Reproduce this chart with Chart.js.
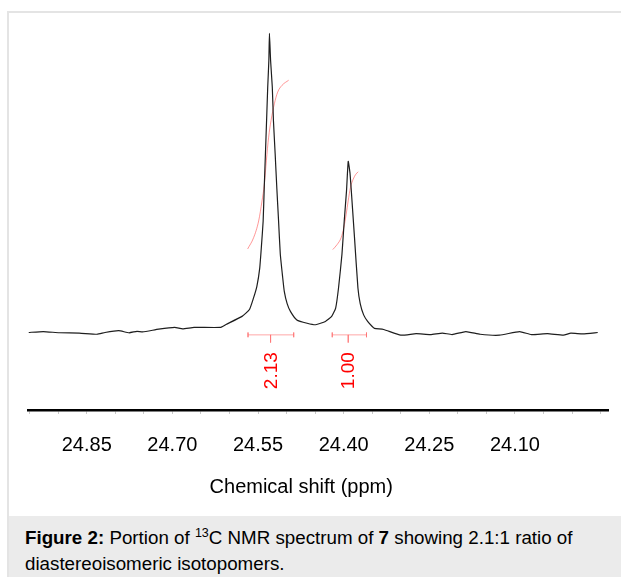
<!DOCTYPE html>
<html>
<head>
<meta charset="utf-8">
<script src="https://cdn.jsdelivr.net/npm/chart.js@4.4.1/dist/chart.umd.min.js"></script>
<style>
    html, body { margin: 0; padding: 0; background: #fff; }
    body { width: 621px; height: 577px; position: relative; overflow: hidden; font-family: "Liberation Sans", Arial, sans-serif; }
    #frame { position: absolute; left: 7px; top: 11px; width: 700px; height: 700px; border-left: 2px solid #e4e4e4; border-top: 2px solid #e4e4e4; }
    #wrap { position: absolute; left: 0; top: 0; width: 621px; height: 515px; }
    #caption { position: absolute; left: 9px; top: 516px; width: 612px; height: 61px; background: #ebebeb; box-sizing: border-box; padding: 9px 0 0 16px; font-size: 18.75px; line-height: 26px; color: #000; white-space: nowrap; }
    #caption sup { font-size: 12.5px; line-height: 0; vertical-align: 7px; }
</style>
</head>
<body>
<div id="frame"></div>
<div id="wrap"><canvas id="nmr-canvas" width="621" height="515"></canvas></div>
<div id="caption"><b>Figure 2:</b> Portion of <sup>13</sup>C NMR spectrum of <b>7</b> showing 2.1:1 ratio of<br>diastereoisomeric isotopomers.</div>
<script>
// spectrum (ppm / relative intensity, tallest peak = 100)
const spectrumPpm = [
    24.952, 24.926, 24.898, 24.863, 24.832, 24.818, 24.794, 24.776, 24.762, 24.752,
    24.724, 24.696, 24.682, 24.662, 24.616, 24.606, 24.578, 24.565, 24.558, 24.552,
    24.547, 24.544, 24.541, 24.539, 24.537, 24.535, 24.533, 24.531, 24.530, 24.528,
    24.525, 24.523, 24.520, 24.517, 24.514, 24.511, 24.507, 24.504, 24.499, 24.493,
    24.482, 24.464, 24.449, 24.432, 24.421, 24.414, 24.409, 24.403, 24.399, 24.395,
    24.392, 24.389, 24.387, 24.381, 24.375, 24.371, 24.365, 24.358, 24.350, 24.346,
    24.330, 24.300, 24.273, 24.248, 24.227, 24.210, 24.186, 24.161, 24.127, 24.092,
    24.071, 24.043, 24.015, 24.002, 23.981, 23.955
];
const spectrumIntensity = [
    -0.3, 0.0, -0.4, -0.5, -0.9, -0.3, 0.3, -0.4, 0.1, -0.1,
    0.8, 1.4, 0.9, 1.4, 1.4, 2.4, 5.1, 7.4, 11.2, 15.2,
    21.3, 28.7, 37.1, 48.9, 59.7, 70.8, 82.0, 91.0, 100, 91.0,
    82.0, 70.8, 59.7, 47.9, 37.1, 26.0, 18.5, 13.5, 9.4, 6.7,
    3.9, 2.8, 2.3, 3.4, 5.1, 7.9, 14.6, 25.9, 37.1, 47.2,
    57.1, 53.3, 48.3, 31.5, 14.6, 9.4, 5.6, 3.4, 1.7, 1.1,
    0.7, -1.2, -0.7, -1.0, -0.5, -1.0, 0.0, -0.9, -1.2, 0.0,
    -1.0, -0.7, -1.2, -0.5, -0.8, -0.3
];

// integral curves
const integral1Ppm = [24.5682, 24.5577, 24.5489, 24.5430, 24.5389, 24.5354, 24.5314, 24.5272, 24.5214, 24.5156, 24.5079, 24.4963];
const integral1Value = [27.7, 31.5, 37.1, 43.8, 49.4, 57.3, 65.2, 70.8, 76.4, 80.3, 82.6, 84.3];
const integral2Ppm = [24.4191, 24.4114, 24.4044, 24.3998, 24.3956, 24.3921, 24.3881, 24.3833, 24.3793, 24.3746];
const integral2Value = [27.5, 29.2, 31.5, 34.8, 39.3, 43.8, 48.3, 51.1, 52.6, 53.6];

// integration ranges: from, to, centre, value
const integralFrom = [24.5675, 24.420];
const integralTo = [24.4875, 24.360];
const integralCentre = [24.528, 24.392];
const integralLabels = ['2.13', '1.00'];

const tickLabels = ['24.85', '24.70', '24.55', '24.40', '24.25', '24.10'];
const axisTitle = 'Chemical shift (ppm)';

const FONT = '"Liberation Sans", Arial, sans-serif';
const barLevel = -1.1;
const labelLevel = -13.1;

function toPoints(xs, ys) {
    return xs.map((x, i) => ({ x: x, y: ys[i] }));
}

// integration bars with end caps and a centre tick, gaps split the pieces
let barPoints = [];
integralFrom.forEach((a, i) => {
    let b = integralTo[i];
    let c = integralCentre[i];
    barPoints.push(
        { x: a, y: barLevel + 0.8 }, { x: a, y: barLevel - 0.8 }, { x: a, y: null },
        { x: a, y: barLevel }, { x: b, y: barLevel }, { x: b, y: null },
        { x: b, y: barLevel + 0.8 }, { x: b, y: barLevel - 0.8 }, { x: b, y: null },
        { x: c, y: barLevel }, { x: c, y: barLevel - 2.6 }, { x: c, y: null }
    );
});

const integralText = {
    id: 'integralText',
    afterDatasetsDraw(chart) {
        const c = chart.ctx;
        const sx = chart.scales.x;
        const sy = chart.scales.y;
        c.save();
        c.fillStyle = '#ff0000';
        c.font = '19px ' + FONT;
        c.textAlign = 'center';
        c.textBaseline = 'middle';
        integralLabels.forEach((t, i) => {
            c.save();
            c.translate(sx.getPixelForValue(integralCentre[i]), sy.getPixelForValue(labelLevel));
            c.rotate(-Math.PI / 2);
            c.fillText(t, 0, 1);
            c.restore();
        });
        // axis title sits a bit left of the axis centre in the original
        const area = chart.chartArea;
        c.fillStyle = '#000';
        c.font = '20px ' + FONT;
        c.fillText(axisTitle, (area.left + area.right) / 2 - 17, area.bottom + 77);
        c.restore();
    }
};

const ctx = document.getElementById('nmr-canvas').getContext('2d');
const nmrChart = new Chart(ctx, {
    type: 'line',
    data: {
        datasets: [
            {
                label: 'spectrum',
                data: toPoints(spectrumPpm, spectrumIntensity),
                borderColor: '#1e1e1e',
                borderWidth: 1.2,
                pointRadius: 0,
                tension: 0.15
            },
            {
                label: 'integral 1',
                data: toPoints(integral1Ppm, integral1Value),
                borderColor: 'rgba(255, 80, 80, 0.75)',
                borderWidth: 0.8,
                pointRadius: 0,
                cubicInterpolationMode: 'monotone'
            },
            {
                label: 'integral 2',
                data: toPoints(integral2Ppm, integral2Value),
                borderColor: 'rgba(255, 80, 80, 0.75)',
                borderWidth: 0.8,
                pointRadius: 0,
                cubicInterpolationMode: 'monotone'
            },
            {
                label: 'integration bars',
                data: barPoints,
                borderColor: 'rgba(255, 110, 110, 0.6)',
                borderWidth: 1,
                pointRadius: 0,
                spanGaps: false
            }
        ]
    },
    options: {
        responsive: false,
        animation: false,
        events: [],
        layout: {
            padding: { left: 28.5, right: 13, top: 20, bottom: 39 }
        },
        plugins: {
            legend: { display: false },
            tooltip: { enabled: false }
        },
        scales: {
            x: {
                type: 'linear',
                reverse: true,
                min: 23.937,
                max: 24.952,
                ticks: {
                    stepSize: 0.05,
                    autoSkip: false,
                    includeBounds: false,
                    maxRotation: 0,
                    padding: 19,
                    color: '#000',
                    font: { size: 20, family: FONT },
                    callback: function (value) {
                        let t = tickLabels.find(l => Math.abs(Number(l) - value) < 1e-6);
                        return t ? t : '';
                    }
                },
                grid: {
                    drawOnChartArea: false,
                    drawTicks: true,
                    tickLength: 4,
                    color: '#c8c8c8'
                },
                border: { display: true, color: '#000', width: 2.5 }
            },
            y: {
                display: false,
                min: -26.3,
                max: 104.5
            }
        }
    },
    plugins: [integralText]
});
</script>
</body>
</html>
